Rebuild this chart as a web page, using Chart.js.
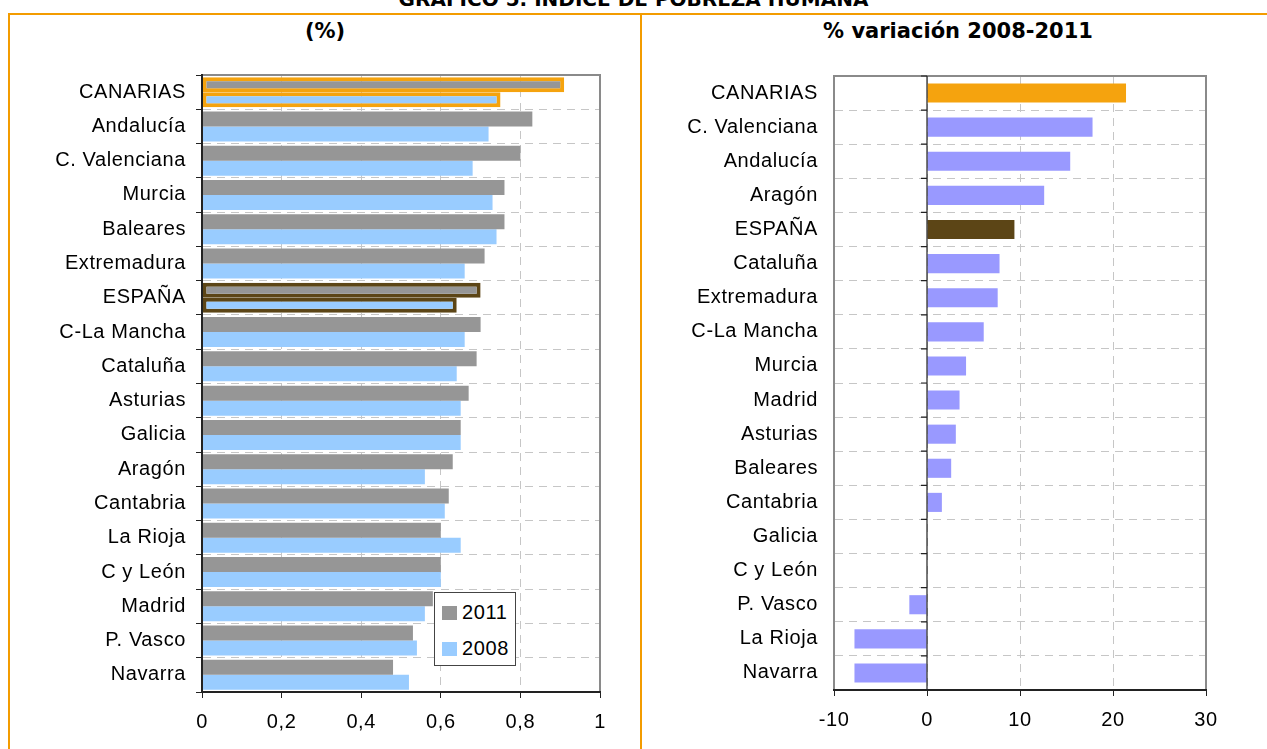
<!DOCTYPE html>
<html>
<head>
<meta charset="utf-8">
<script src="https://cdn.jsdelivr.net/npm/chart.js@4.4.1/dist/chart.umd.min.js"></script>
<style>
  html, body { margin: 0; padding: 0; background: #fff; }
  body { width: 1267px; height: 749px; position: relative; overflow: hidden; font-family: "Liberation Sans", Arial, sans-serif; }
  .frame { position: absolute; left: 8px; top: 13px; width: 1280px; height: 800px; border: 2px solid #F39C00; box-sizing: border-box; }
  .divider { position: absolute; left: 640px; top: 13px; width: 2px; height: 740px; background: #F39C00; }
  .title { position: absolute; left: 0; width: 1267px; top: -11px; text-align: center; font: bold 20px "DejaVu Sans", sans-serif; line-height: 20px; color: #000; }
  .sub { position: absolute; top: 18px; font: bold 21px "DejaVu Sans", sans-serif; line-height: 26px; color: #000; text-align: center; }
  .box { position: absolute; }
  #legend { position: absolute; left: 434px; top: 592px; width: 82px; height: 74px; border: 1px solid #444; background: #fff; box-sizing: border-box; }
  #legend div { position: absolute; left: 7px; font-size: 20px; line-height: 20px; letter-spacing: 0.6px; }
  #legend span { display: inline-block; width: 15px; height: 14px; margin-right: 5px; vertical-align: -1px; }
</style>
</head>
<body>
<div class="title">GRÁFICO 5. ÍNDICE DE POBREZA HUMANA</div>
<div class="frame"></div>
<div class="divider"></div>
<div class="sub" style="left:225px;width:200px;">(%)</div>
<div class="sub" style="left:808px;width:300px;">% variación 2008-2011</div>
<div class="box" style="left:10px;top:40px;width:630px;height:709px;"><canvas id="left"></canvas></div>
<div class="box" style="left:650px;top:40px;width:617px;height:709px;"><canvas id="right"></canvas></div>
<div id="legend"></div>
<script>
// left panel: index 2011 vs 2008
const regions = ['CANARIAS', 'Andalucía', 'C. Valenciana', 'Murcia', 'Baleares', 'Extremadura', 'ESPAÑA',
  'C-La Mancha', 'Cataluña', 'Asturias', 'Galicia', 'Aragón', 'Cantabria', 'La Rioja', 'C y León',
  'Madrid', 'P. Vasco', 'Navarra'];
const idh2011 = [0.91, 0.83, 0.80, 0.76, 0.76, 0.71, 0.70, 0.70, 0.69, 0.67, 0.65, 0.63, 0.62, 0.60, 0.60, 0.58, 0.53, 0.48];
const idh2008 = [0.75, 0.72, 0.68, 0.73, 0.74, 0.66, 0.64, 0.66, 0.64, 0.65, 0.65, 0.56, 0.61, 0.65, 0.60, 0.56, 0.54, 0.52];
const leftTicks = [0, 0.2, 0.4, 0.6, 0.8, 1];

// right panel: % change 2008-2011
const regionsVar = ['CANARIAS', 'C. Valenciana', 'Andalucía', 'Aragón', 'ESPAÑA', 'Cataluña', 'Extremadura',
  'C-La Mancha', 'Murcia', 'Madrid', 'Asturias', 'Baleares', 'Cantabria', 'Galicia', 'C y León',
  'P. Vasco', 'La Rioja', 'Navarra'];
const variation = [21.4, 17.8, 15.4, 12.6, 9.4, 7.8, 7.6, 6.1, 4.2, 3.5, 3.1, 2.6, 1.6, 0, 0, -1.9, -7.8, -7.8];
const rightTicks = [-10, 0, 10, 20, 30];

const GRAY = '#969696', BLUE = '#99CCFF', LILAC = '#9999FF', ORANGE = '#F5A30E', BROWN = '#5C4516';
const GRID = '#c6c6c6';
const font = { family: '"Liberation Sans", Arial, sans-serif', size: 20 };

function edge(label) {
  if (label === 'CANARIAS') return ORANGE;
  if (label === 'ESPAÑA') return BROWN;
  return 'rgba(0,0,0,0)';
}

// the original labels are a bit wider-spaced than Arial
const spacingPlugin = {
  id: 'spacing',
  beforeDraw(chart) { chart.ctx.letterSpacing = '0.6px'; }
};

const framePlugin = {
  id: 'frame',
  afterDatasetsDraw(chart, args, opts) {
    const { ctx, chartArea: a } = chart;
    ctx.save();
    ctx.strokeStyle = '#8a8a8a';
    ctx.lineWidth = 2;
    ctx.beginPath();
    if (opts.left) { ctx.moveTo(a.left, a.bottom); ctx.lineTo(a.left, a.top); } else { ctx.moveTo(a.left, a.top); }
    ctx.lineTo(a.right, a.top);
    ctx.lineTo(a.right, a.bottom);
    ctx.stroke();
    ctx.restore();
  }
};

const zeroPlugin = {
  id: 'zero',
  afterDatasetsDraw(chart) {
    const { ctx, chartArea: a, scales } = chart;
    const x0 = scales.x.getPixelForValue(0);
    const n = scales.y.ticks.length;
    ctx.save();
    ctx.strokeStyle = '#222';
    ctx.lineWidth = 1.2;
    ctx.beginPath();
    ctx.moveTo(x0, a.top); ctx.lineTo(x0, a.bottom);
    for (let i = 0; i <= n; i++) {
      const y = a.top + i * (a.bottom - a.top) / n;
      ctx.moveTo(x0 - 6, y); ctx.lineTo(x0, y);
    }
    ctx.stroke();
    ctx.restore();
  }
};

new Chart(document.getElementById('left'), {
  type: 'bar',
  data: {
    labels: regions,
    datasets: [
      { label: '2011', data: idh2011, backgroundColor: GRAY, borderColor: regions.map(edge),
        borderWidth: regions.map(r => edge(r).startsWith('#') ? 4 : 0), borderSkipped: false },
      { label: '2008', data: idh2008, backgroundColor: BLUE, borderColor: regions.map(edge),
        borderWidth: regions.map(r => edge(r).startsWith('#') ? 4 : 0), borderSkipped: false }
    ]
  },
  options: {
    indexAxis: 'y',
    responsive: true,
    maintainAspectRatio: false,
    animation: false,
    categoryPercentage: 0.875,
    barPercentage: 1,
    layout: { padding: { top: 35, right: 40, left: 0, bottom: 0 } },
    plugins: { legend: { display: false }, tooltip: { enabled: false }, frame: { left: false } },
    scales: {
      x: {
        min: 0, max: 1,
        afterBuildTicks: s => { s.ticks = leftTicks.map(v => ({ value: v })); },
        afterFit: s => { s.height = 57; },
        grid: { color: GRID, tickColor: '#222', tickLength: 6 },
        border: { color: '#222', width: 2, dash: [8, 6], z: 1 },
        ticks: { color: '#000', font, padding: 12, maxRotation: 0,
          callback: v => String(Math.round(v * 10) / 10).replace('.', ',') }
      },
      y: {
        afterFit: s => { s.width = 192; },
        grid: { color: GRID, tickColor: '#222', tickLength: 6 },
        border: { color: '#222', width: 2, dash: [8, 6], z: 1 },
        ticks: { color: '#000', font, padding: 10, autoSkip: false }
      }
    }
  },
  plugins: [spacingPlugin, framePlugin]
});

new Chart(document.getElementById('right'), {
  type: 'bar',
  data: {
    labels: regionsVar,
    datasets: [{
      label: '% variación 2008-2011',
      data: variation,
      backgroundColor: regionsVar.map(r => r === 'CANARIAS' ? ORANGE : r === 'ESPAÑA' ? BROWN : LILAC),
      borderWidth: 0
    }]
  },
  options: {
    indexAxis: 'y',
    responsive: true,
    maintainAspectRatio: false,
    animation: false,
    categoryPercentage: 1,
    barPercentage: 0.56,
    layout: { padding: { top: 36, right: 61, left: 0, bottom: 0 } },
    plugins: { legend: { display: false }, tooltip: { enabled: false }, frame: { left: true } },
    scales: {
      x: {
        min: -10, max: 30,
        afterBuildTicks: s => { s.ticks = rightTicks.map(v => ({ value: v })); },
        afterFit: s => { s.height = 59; },
        grid: { color: GRID, tickColor: '#222', tickLength: 6 },
        border: { color: '#222', width: 2, dash: [8, 6], z: 1 },
        ticks: { color: '#000', font, padding: 12, maxRotation: 0 }
      },
      y: {
        afterFit: s => { s.width = 184; },
        grid: { color: GRID, drawTicks: false },
        border: { color: '#8a8a8a', width: 2, dash: [8, 6] },
        ticks: { color: '#000', font, padding: 16, autoSkip: false }
      }
    }
  },
  plugins: [spacingPlugin, framePlugin, zeroPlugin]
});

// legend box inside the left plot
const legendItems = [['2011', GRAY, 9], ['2008', BLUE, 45]];
document.getElementById('legend').innerHTML = legendItems
  .map(([t, c, top]) => `<div style="top:${top}px"><span style="background:${c}"></span>${t}</div>`).join('');
</script>
</body>
</html>
